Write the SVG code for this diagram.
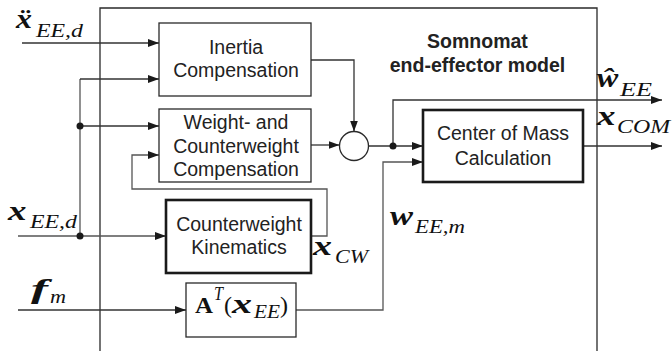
<svg xmlns="http://www.w3.org/2000/svg" width="672" height="351" viewBox="0 0 672 351">
<defs>
<marker id="ah" viewBox="0 0 11 8" refX="11" refY="4" markerWidth="11" markerHeight="8" markerUnits="userSpaceOnUse" orient="auto">
<path d="M0,0 L11,4 L0,8 Z" fill="#1a1a1a"/>
</marker>
</defs>
<style>
.frame{fill:none;stroke:#2a2a2a;stroke-width:1.3}
.box{fill:#fff;stroke:#2a2a2a;stroke-width:1.3}
.tbox{fill:#fff;stroke:#1a1a1a;stroke-width:2.6}
.ln{fill:none;stroke:#333;stroke-width:1.3}
.fb{fill:none;stroke:#555;stroke-width:1.3}
.arr{marker-end:url(#ah)}
.dot{fill:#1a1a1a}
.lbl{font-family:"Liberation Sans",Arial,sans-serif;font-size:19.5px;fill:#222;text-anchor:middle}
.ttl{font-family:"Liberation Sans",Arial,sans-serif;font-size:19.5px;font-weight:bold;fill:#222;text-anchor:middle}
.vec{font-family:"Liberation Serif","Times New Roman",serif;font-size:27px;font-weight:bold;font-style:italic;fill:#111}
.sub{font-family:"Liberation Serif","Times New Roman",serif;font-size:18px;font-style:italic;fill:#111}
.rom{font-family:"Liberation Serif","Times New Roman",serif;font-size:24px;fill:#111}
</style>
<rect width="672" height="351" fill="#fff"/>
<path class="frame" d="M100,351 V8 H597 V351"/>
<g id="connectors">
<path class="ln arr" d="M22,43 H159"/>
<path class="fb" d="M80,79 V236"/>
<path class="ln arr" d="M80,79 H159"/>
<path class="ln arr" d="M80,126 H159"/>
<path class="fb arr" d="M18,236 H166"/>
<path class="ln arr" d="M18,310 H186"/>
<path class="fb arr" d="M311,236 H327 V189 H132 V155 H159"/>
<path class="ln arr" d="M311,60 H354 V131.5"/>
<path class="ln arr" d="M311,145 H339.5"/>
<path class="ln arr" d="M368.5,146 H423"/>
<path class="ln arr" d="M393,146 V100 H662"/>
<path class="fb arr" d="M296,310 H383 V162 H423"/>
<path class="ln arr" d="M583,146 H662"/>
<circle class="dot" cx="80" cy="126" r="3.5"/>
<circle class="dot" cx="80" cy="236" r="3.5"/>
<circle class="dot" cx="393" cy="146" r="3.5"/>
</g>
<g id="title">
<text class="ttl" x="477.5" y="47.7">Somnomat</text>
<text class="ttl" x="477.5" y="71.7">end-effector model</text>
</g>
<g id="inertia">
<rect class="box" x="159" y="23" width="152" height="73"/>
<text class="lbl" x="236" y="54.3">Inertia</text>
<text class="lbl" x="236" y="77.3">Compensation</text>
</g>
<g id="weight">
<rect class="box" x="159" y="109" width="152" height="73"/>
<text class="lbl" x="236" y="129.3">Weight- and</text>
<text class="lbl" x="236" y="152.5">Counterweight</text>
<text class="lbl" x="236" y="175.5">Compensation</text>
</g>
<g id="cwkin">
<rect class="tbox" x="166" y="200" width="145" height="73"/>
<text class="lbl" x="239" y="231">Counterweight</text>
<text class="lbl" x="239" y="253.5">Kinematics</text>
</g>
<g id="transform">
<rect class="box" x="186" y="283" width="110" height="54"/>
<text class="rom" x="195" y="313" font-weight="bold" textLength="18" lengthAdjust="spacingAndGlyphs">A</text>
<text class="sub" x="214" y="300" font-size="13px" textLength="9" lengthAdjust="spacingAndGlyphs">T</text>
<text class="rom" x="224" y="313" font-size="26px">(</text>
<text class="vec" x="232" y="313" textLength="20" lengthAdjust="spacingAndGlyphs">x</text>
<text class="sub" x="254" y="318" font-size="16px" textLength="26" lengthAdjust="spacingAndGlyphs">EE</text>
<text class="rom" x="280" y="313" font-size="26px">)</text>
</g>
<g id="sum">
<circle class="box" cx="354" cy="146" r="14.5"/>
</g>
<g id="com">
<rect class="tbox" x="423" y="110" width="160" height="72"/>
<text class="lbl" x="503" y="140">Center of Mass</text>
<text class="lbl" x="503" y="165">Calculation</text>
</g>
<g id="labels">
<text class="vec" x="16" y="27.5" textLength="16" lengthAdjust="spacingAndGlyphs">ẍ</text>
<text class="sub" x="36" y="37" textLength="47" lengthAdjust="spacingAndGlyphs">EE,d</text>
<text class="vec" x="8" y="220" textLength="18.5" lengthAdjust="spacingAndGlyphs">x</text>
<text class="sub" x="30" y="228.3" textLength="47" lengthAdjust="spacingAndGlyphs">EE,d</text>
<text class="vec" x="31" y="298" textLength="17" lengthAdjust="spacingAndGlyphs">f</text>
<text class="sub" x="50" y="303" textLength="16" lengthAdjust="spacingAndGlyphs">m</text>
<text class="vec" x="313" y="255" textLength="19" lengthAdjust="spacingAndGlyphs">x</text>
<text class="sub" x="335" y="263" textLength="33" lengthAdjust="spacingAndGlyphs">CW</text>
<text class="vec" x="390" y="225" textLength="23" lengthAdjust="spacingAndGlyphs">w</text>
<text class="sub" x="415" y="233" textLength="50" lengthAdjust="spacingAndGlyphs">EE,m</text>
<text class="vec" x="597" y="86.7" textLength="21.5" lengthAdjust="spacingAndGlyphs">ŵ</text>
<text class="sub" x="620" y="96" textLength="32" lengthAdjust="spacingAndGlyphs">EE</text>
<text class="vec" x="597" y="125" textLength="18.5" lengthAdjust="spacingAndGlyphs">x</text>
<text class="sub" x="617" y="133" textLength="53" lengthAdjust="spacingAndGlyphs">COM</text>
</g>
</svg>
